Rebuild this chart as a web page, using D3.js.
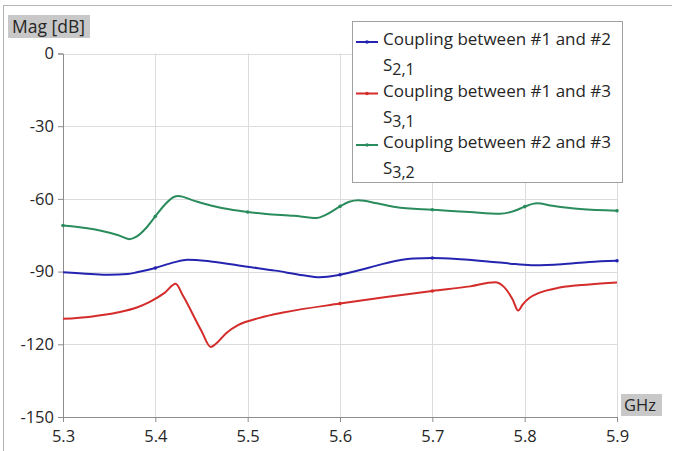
<!DOCTYPE html>
<html><head><meta charset="utf-8">
<script src="https://cdn.jsdelivr.net/npm/d3@7"></script>
<style>body{margin:0;background:#fff}svg{display:block}text{font-family:"Open Sans",sans-serif}</style>
</head><body><svg id="c" width="677" height="451"></svg>
<script>
// ---- data ----
const xTicks = [5.3, 5.4, 5.5, 5.6, 5.7, 5.8, 5.9];
const yTicks = [0, -30, -60, -90, -120, -150];

const freqS21 = [5.30,5.33,5.35,5.37,5.38,5.40,5.42,5.435,5.46,5.50,5.53,5.56,5.578,5.60,5.63,5.66,5.68,5.70,5.73,5.76,5.79,5.81,5.84,5.87,5.90];
const magS21  = [-90.3,-91.0,-91.3,-91.0,-90.3,-88.5,-86.2,-85.1,-85.8,-88.0,-89.6,-91.5,-92.3,-91.3,-88.5,-85.6,-84.6,-84.4,-84.9,-85.8,-86.9,-87.4,-87.0,-86.0,-85.5];
const markS21 = [5.40, 5.60, 5.70, 5.90];

const freqS31 = [5.30,5.33,5.36,5.38,5.394,5.41,5.422,5.43,5.45,5.46,5.465,5.477,5.49,5.513,5.54,5.60,5.65,5.70,5.741,5.768,5.777,5.787,5.793,5.798,5.805,5.815,5.838,5.87,5.90];
const magS31  = [-109.5,-108.6,-106.8,-104.8,-102.5,-98.8,-95.0,-100.0,-114.5,-121.1,-120.0,-115.3,-112.0,-109.1,-106.8,-103.2,-100.5,-98.0,-96.1,-94.4,-96.1,-101.5,-106.1,-103.5,-100.9,-98.9,-96.6,-95.3,-94.5];
const markS31 = [5.60, 5.70];

const freqS32 = [5.30,5.32,5.34,5.36,5.372,5.38,5.39,5.40,5.41,5.42,5.425,5.44,5.46,5.48,5.50,5.52,5.55,5.575,5.585,5.60,5.61,5.62,5.64,5.66,5.70,5.74,5.773,5.79,5.80,5.813,5.83,5.86,5.90];
const magS32  = [-71.0,-71.8,-73.0,-75.0,-76.6,-75.5,-72.0,-67.2,-62.5,-59.2,-58.8,-60.5,-62.7,-64.3,-65.4,-66.2,-67.0,-67.9,-66.5,-63.1,-61.2,-60.6,-61.8,-63.3,-64.5,-65.4,-66.1,-64.8,-63.2,-61.8,-62.8,-64.2,-64.9];
const markS32 = [5.30, 5.40, 5.50, 5.60, 5.70, 5.80, 5.90];

const seriesNames = ["Coupling between #1 and #2", "Coupling between #1 and #3", "Coupling between #2 and #3"];
const seriesSub = ["2,1", "3,1", "3,2"];
const seriesColors = ["#2424b0", "#d42b2b", "#2a8c5c"];

// ---- chart ----
const svg = d3.select("#c");
const x = d3.scaleLinear().domain([5.3, 5.9]).range([63, 617]);
const y = d3.scaleLinear().domain([-150, 0]).range([417, 53.5]);

// outer frame (top/left)
svg.append("line").attr("x1",3).attr("x2",672).attr("y1",5.5).attr("y2",5.5).attr("stroke","#b4b4b4");
svg.append("line").attr("x1",3.5).attr("x2",3.5).attr("y1",5).attr("y2",451).attr("stroke","#b4b4b4");

// grid
const g = svg.append("g");
g.selectAll(".gx").data(xTicks.slice(1)).join("line")
  .attr("x1",d=>Math.round(x(d))+0.5).attr("x2",d=>Math.round(x(d))+0.5)
  .attr("y1",53.5).attr("y2",417).attr("stroke","#dcdcdc");
g.selectAll(".gy").data(yTicks.slice(0,-1)).join("line")
  .attr("x1",63).attr("x2",617)
  .attr("y1",d=>Math.round(y(d))+0.5).attr("y2",d=>Math.round(y(d))+0.5).attr("stroke","#dcdcdc");

// axes
const xAxis = d3.axisBottom(x).tickValues(xTicks).tickFormat(d3.format(".1f")).tickSize(5).tickPadding(8);
const yAxis = d3.axisLeft(y).tickValues(yTicks).tickFormat(d=>d).tickSize(5).tickPadding(4);
const gx = svg.append("g").attr("transform","translate(0,417)").call(xAxis);
const gy = svg.append("g").attr("transform","translate(63,0)").call(yAxis);
[gx,gy].forEach(a=>{
  a.select(".domain").attr("stroke","#8c8c8c");
  a.selectAll(".tick line").attr("stroke","#8c8c8c");
  a.selectAll("text").attr("fill","#262626").style("font-size","16.5px").style("font-family","'Open Sans',sans-serif");
});

// series
const data = [
  freqS21.map((f,i)=>[f,magS21[i]]),
  freqS31.map((f,i)=>[f,magS31[i]]),
  freqS32.map((f,i)=>[f,magS32[i]])
];
const marks = [markS21, markS31, markS32];
const line = d3.line().x(d=>x(d[0])).y(d=>y(d[1])).curve(d3.curveMonotoneX);
data.forEach((s,i)=>{
  svg.append("path").datum(s).attr("d",line).attr("fill","none")
    .attr("stroke",seriesColors[i]).attr("stroke-width",2);
  const pts = s.filter(d=>marks[i].some(m=>Math.abs(m-d[0])<1e-9));
  svg.selectAll(null).data(pts).join("circle")
    .attr("cx",d=>x(d[0])).attr("cy",d=>y(d[1])).attr("r",1.8).attr("fill",seriesColors[i]);
});

// axis title boxes
svg.append("rect").attr("x",8).attr("y",15).attr("width",82).attr("height",23).attr("fill","#c8c8c8");
svg.append("text").attr("x",12).attr("y",32.5).text("Mag [dB]").attr("fill","#262626").style("font-size","17.5px");
svg.append("rect").attr("x",621).attr("y",394).attr("width",41).attr("height",22).attr("fill","#c8c8c8");
svg.append("text").attr("x",624).attr("y",411).text("GHz").attr("fill","#262626").style("font-size","16.5px");

// legend
const lg = svg.append("g");
lg.append("rect").attr("x",352.5).attr("y",21.5).attr("width",270).attr("height",161)
  .attr("fill","#fff").attr("stroke","#a0a0a0");
seriesNames.forEach((n,i)=>{
  const cy = 39 + i*51.5;
  lg.append("line").attr("x1",356).attr("x2",378).attr("y1",cy+3).attr("y2",cy+3)
    .attr("stroke",seriesColors[i]).attr("stroke-width",2);
  lg.append("circle").attr("cx",367).attr("cy",cy+3).attr("r",1.8).attr("fill",seriesColors[i]);
  lg.append("text").attr("x",383).attr("y",cy+6).text(n).attr("fill","#262626").style("font-size","17px");
  const t = lg.append("text").attr("x",383).attr("y",cy+32).attr("fill","#262626").style("font-size","17px");
  t.append("tspan").text("S");
  t.append("tspan").attr("dy",4).style("font-size","16px").text(seriesSub[i]);
});
</script></body></html>
